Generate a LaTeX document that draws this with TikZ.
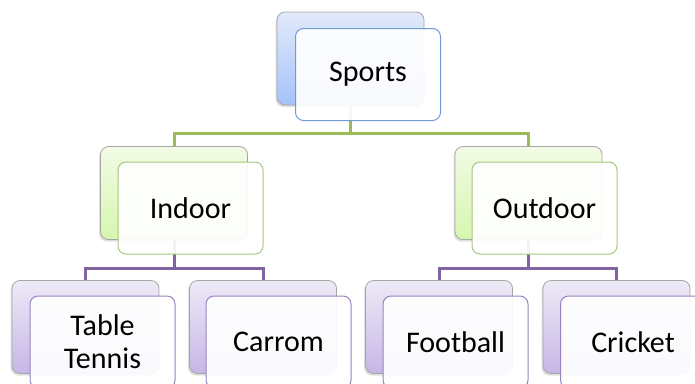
\documentclass[tikz,border=0pt]{standalone}
\usepackage{fontspec}
\setmainfont{Carlito}
\usetikzlibrary{shadows}
\pgfdeclarelayer{background}
\pgfsetlayers{background,main}
\definecolor{bluetop}{HTML}{E2EAFA}
\definecolor{bluebot}{HTML}{A4C2FA}
\definecolor{bluefr}{HTML}{6E9AD8}
\definecolor{greentop}{HTML}{F2FBE6}
\definecolor{greenbot}{HTML}{D6F6AE}
\definecolor{greenfr}{HTML}{A6C87E}
\definecolor{purtop}{HTML}{EEEAF6}
\definecolor{purbot}{HTML}{C6B6E6}
\definecolor{purfr}{HTML}{9A82C2}
\definecolor{greenline}{HTML}{9BBB59}
\definecolor{purline}{HTML}{8064A2}
\tikzset{
  backbox/.style={rectangle, rounded corners=8pt, draw=gray!70, line width=0.8pt,
    minimum width=147pt, minimum height=93pt, inner sep=0pt,
    drop shadow={shadow xshift=-1.5pt, shadow yshift=-2pt, opacity=0.25}},
  frontbox/.style={rectangle, rounded corners=8pt, line width=1pt,
    fill=white, fill opacity=0.92, text opacity=1,
    minimum width=145pt, minimum height=92pt, inner sep=0pt, align=center,
    font=\fontsize{30}{33}\selectfont},
  blueback/.style={backbox, top color=bluetop, bottom color=bluebot},
  greenback/.style={backbox, top color=greentop, bottom color=greenbot},
  purback/.style={backbox, top color=purtop, bottom color=purbot},
  bluefront/.style={frontbox, draw=bluefr},
  greenfront/.style={frontbox, draw=greenfr},
  purfront/.style={frontbox, draw=purfr},
  gline/.style={draw=greenline, line width=3pt},
  pline/.style={draw=purline, line width=3pt},
}
\begin{document}
\begin{tikzpicture}[x=1pt,y=-1pt]
\useasboundingbox (0,0) rectangle (695,383);
\clip (0,0) rectangle (695,383);
% top
\node[blueback] (sportsB) at (350.5,58.5) {};
\node[bluefront] (sports) at (368,74.5) {Sports};
% middle
\node[greenback] (indoorB) at (174,193) {};
\node[greenfront] (indoor) at (190.5,208) {Indoor};
\node[greenback] (outdoorB) at (528.5,193) {};
\node[greenfront] (outdoor) at (544.5,208) {Outdoor};
% bottom
\node[purback] (ttB) at (85.5,327) {};
\node[purfront] (tt) at (102.5,342) {Table\\Tennis};
\node[purback] (carromB) at (263,327) {};
\node[purfront] (carrom) at (278.5,342) {Carrom};
\node[purback] (footballB) at (439,327) {};
\node[purfront] (football) at (455.5,342) {Football};
\node[purback] (cricketB) at (616.5,327) {};
\node[purfront] (cricket) at (633,342) {Cricket};
% connectors
\coordinate (j1) at (350.5,133);
\coordinate (j2) at (174,268);
\coordinate (j3) at (528.5,268);
\begin{pgfonlayer}{background}
\draw[gline] (sportsB.center) -- (j1);
\draw[gline] (j1) -| (indoorB.north);
\draw[gline] (j1) -| (outdoorB.north);
\draw[pline] (indoorB.center) -- (j2);
\draw[pline] (j2) -| (ttB.north);
\draw[pline] (j2) -| (carromB.north);
\draw[pline] (outdoorB.center) -- (j3);
\draw[pline] (j3) -| (footballB.north);
\draw[pline] (j3) -| (cricketB.north);
\end{pgfonlayer}
\end{tikzpicture}
\end{document}
